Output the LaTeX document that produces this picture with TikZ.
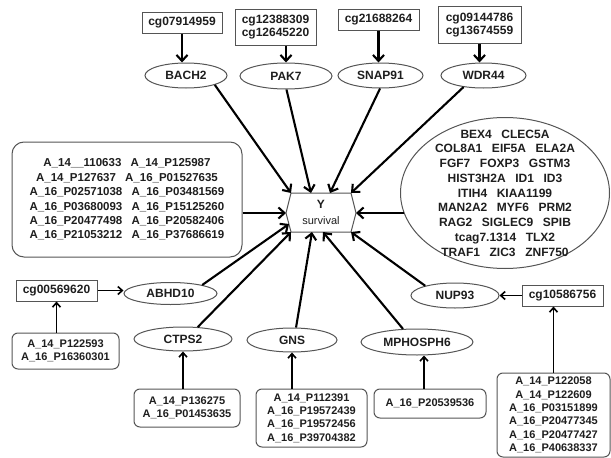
\documentclass[tikz,border=0pt]{standalone}
\usepackage{fontspec}
\setmainfont{Liberation Sans}
\usetikzlibrary{arrows.meta,calc,shapes.geometric}
\definecolor{txt}{HTML}{1E1E1E}
\definecolor{bord}{HTML}{555555}
\newcommand\gapp{\hspace{0.8em}}
\begin{document}
\begin{tikzpicture}[x=1pt,y=-1pt,
  lbl/.style={font=\fontsize{12}{13.3}\selectfont\bfseries, text=txt, align=center, inner sep=0pt},
  cgbox/.style={lbl, rectangle, draw=bord, line width=1pt, minimum width=81pt, minimum height=21pt},
  gene/.style={lbl, ellipse, draw=bord, line width=1pt},
  pbox/.style={lbl, font=\fontsize{11}{13.3}\selectfont\bfseries, rectangle, rounded corners=6pt, draw=bord, line width=1pt},
  conn/.style={line width=2.1pt, -{Straight Barb[length=6pt,width=11pt]}},
  feed/.style={line width=2.1pt, -{Straight Barb[length=6pt,width=11pt]}},
  feedsm/.style={line width=1.6pt, -{Straight Barb[length=4.5pt,width=8pt]}},
]
\useasboundingbox (0,0) rectangle (611,458);

% top row
\node[cgbox, minimum width=80pt] (cg1) at (182,22.5) {cg07914959};
\node[cgbox, minimum height=36pt] (cgp) at (275.5,27) {cg12388309\\cg12645220};
\node[cgbox] (cg3) at (378.5,19.5) {cg21688264};
\node[cgbox, minimum width=83pt, minimum height=37pt] (cg4) at (479.5,25) {cg09144786\\cg13674559};
\node[gene, minimum width=82pt, minimum height=25pt] (bach2) at (186,75.5) {BACH2};
\node[gene, minimum width=92pt, minimum height=26pt] (pak7) at (286,76) {PAK7};
\node[gene, minimum width=85pt, minimum height=25pt] (snap) at (380.5,75.5) {SNAP91};
\node[gene, minimum width=85pt, minimum height=25pt] (wdr) at (483.5,75.5) {WDR44};

% centre
\node[text=txt, inner sep=0pt, font=\fontsize{12}{16.5}\selectfont] (Y) at (321,213)
  {\begin{tabular}{@{}c@{}}\textbf{Y}\\{\fontsize{11}{13}\selectfont survival}\end{tabular}};
\coordinate (ytl) at ($(Y)+(-30,-20)$);
\coordinate (ytr) at ($(Y)+(30,-20)$);
\coordinate (yr)  at ($(Y)+(35,0)$);
\coordinate (ybr) at ($(Y)+(30,19)$);
\coordinate (ybl) at ($(Y)+(-30,19)$);
\coordinate (yl)  at ($(Y)+(-35,0)$);
\coordinate (ypak) at ($(Y)+(-10,-20)$);
\coordinate (ysnap) at ($(Y)+(9,-20)$);
\coordinate (yabhd) at ($(Y)+(-32,11)$);
\coordinate (ygns) at ($(Y)+(-9,19)$);
\coordinate (ymph) at ($(Y)+(2,19)$);
\draw[draw=bord, line width=1pt] (ytl) -- (ytr) -- (yr) -- (ybr) -- (ybl) -- (yl) -- cycle;

% left probe box
\node[pbox, rounded corners=12pt, font=\fontsize{11.5}{14.4}\selectfont\bfseries,
  minimum width=230pt, minimum height=115pt] (probes) at (127,199.5)
  {A\_14\_\_110633\gapp A\_14\_P125987\\
   A\_14\_P127637\gapp A\_16\_P01527635\\
   A\_16\_P02571038\gapp A\_16\_P03481569\\
   A\_16\_P03680093\gapp A\_16\_P15125260\\
   A\_16\_P20477498\gapp A\_16\_P20582406\\
   A\_16\_P21053212\gapp A\_16\_P37686619};

% right gene ellipse
\node[gene, minimum width=209pt, minimum height=151pt,
  label={[lbl, font=\fontsize{12}{14.75}\selectfont\bfseries]center:{BEX4\gapp CLEC5A\\
   COL8A1\gapp EIF5A\gapp ELA2A\\
   FGF7\gapp FOXP3\gapp GSTM3\\
   HIST3H2A\gapp ID1\gapp ID3\\
   ITIH4\gapp KIAA1199\\
   MAN2A2\gapp MYF6\gapp PRM2\\
   RAG2\gapp SIGLEC9\gapp SPIB\\
   tcag7.1314\gapp TLX2\\
   TRAF1\gapp ZIC3\gapp ZNF750}}] (genes) at (505,193) {};

% bottom
\node[cgbox] (cgL) at (56.5,290.5) {cg00569620};
\node[gene, minimum width=93pt, minimum height=22pt] (abhd) at (170.5,293.5) {ABHD10};
\node[pbox, minimum width=107pt, minimum height=36pt] (lbox) at (65.5,351) {A\_14\_P122593\\A\_16\_P16360301};
\node[gene, minimum width=98pt, minimum height=24pt] (ctps2) at (183,339) {CTPS2};
\node[pbox, minimum width=106pt, minimum height=38pt] (ctbox) at (187,408) {A\_14\_P136275\\A\_16\_P01453635};
\node[gene, minimum width=90pt, minimum height=24pt] (gns) at (292,340) {GNS};
\node[pbox, minimum width=111pt, minimum height=58pt] (gnsbox) at (311.5,418)
  {A\_14\_P112391\\A\_16\_P19572439\\A\_16\_P19572456\\A\_16\_P39704382};
\node[gene, minimum width=112pt, minimum height=26pt] (mph) at (417,342) {MPHOSPH6};
\node[pbox, minimum width=112pt, minimum height=29pt] (mphbox) at (430,403.5) {A\_16\_P20539536};
\node[gene, minimum width=88pt, minimum height=25pt] (nup) at (455,295.5) {NUP93};
\node[cgbox] (cgR) at (562.5,295.5) {cg10586756};
\node[pbox, minimum width=113pt, minimum height=84pt] (rbox) at (553.5,415)
  {A\_14\_P122058\\A\_14\_P122609\\A\_16\_P03151899\\A\_16\_P20477345\\A\_16\_P20477427\\A\_16\_P40638337};

% top feeds
\draw[feed] (cg1.south) -- (cg1.south |- bach2.north);
\draw[feed] (cgp.south -| pak7.north) -- (pak7.north);
\draw[feed] (cg3.south) -- (cg3.south |- snap.north);
\draw[feed] (cg4.south) -- (cg4.south |- wdr.north);

% connectors to Y
\draw[conn] (bach2.-18) -- (ytl);
\draw[conn] (pak7.-88) -- (ypak);
\draw[conn] (snap.-92) -- (ysnap);
\draw[conn] (wdr.-150) -- (ytr);
\draw[conn] ($(genes.west |- yr)+(3.5,0)$) -- (yr);
\draw[conn] (probes.east |- yl) -- (yl);
\draw[conn] (abhd.15) -- (yabhd);
\draw[conn] (ctps2.39) -- (ybl);
\draw[conn] (gns.72) -- (ygns);
\draw[conn] (mph.137) -- (ymph);
\draw[conn] (nup.162) -- (ybr);

% bottom feeds
\draw[feedsm] (lbox.north -| cgL.south) -- (cgL.south);
\draw[feedsm] (cgL.east) -- (cgL.east -| abhd.west);
\draw[feedsm] (ctbox.north -| ctps2.south) -- (ctps2.south);
\draw[feedsm] (gnsbox.north -| gns.south) -- (gns.south);
\draw[feedsm] ($(mphbox.north)+(-6,0)$) -- ($(mphbox.north |- mph.south)+(-6,0)$);
\draw[feedsm] (rbox.north) -- (rbox.north |- cgR.south);
\draw[feedsm] (cgR.west) -- (cgR.west -| nup.east);
\end{tikzpicture}
\end{document}
